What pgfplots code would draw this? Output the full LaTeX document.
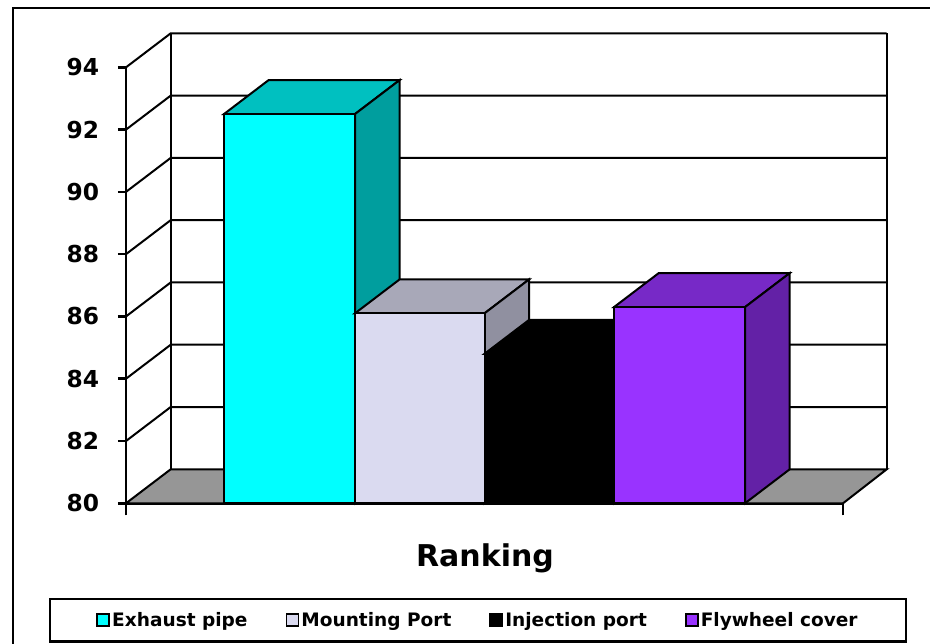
\documentclass[border=0pt]{standalone}
\usepackage{pgfplots}
\pgfplotsset{compat=1.18}
\usepackage{fontspec}
\setmainfont{DejaVu Sans}
\definecolor{cyF}{RGB}{0,255,255}
\definecolor{cyT}{RGB}{0,192,192}
\definecolor{cyS}{RGB}{0,158,158}
\definecolor{lvF}{RGB}{218,218,240}
\definecolor{lvT}{RGB}{168,168,184}
\definecolor{lvS}{RGB}{144,144,160}
\definecolor{puF}{RGB}{153,51,255}
\definecolor{puT}{RGB}{119,41,199}
\definecolor{puS}{RGB}{99,33,166}
\definecolor{floorgray}{RGB}{150,150,150}
\begin{document}
\begin{tikzpicture}
\begin{axis}[
  x=0.75pt, y=23.355pt,
  xmin=126, xmax=843, ymin=80, ymax=94,
  clip=false,
  axis lines*=left,
  axis line style={line width=1.9pt, black},
  tick align=outside,
  tick pos=left,
  ytick={80,82,...,94},
  xtick={126,843},
  xticklabels={},
  major tick length=6pt,
  every tick/.style={black, line width=1.9pt},
  xtick style={/pgfplots/major tick length=9pt},
  /pgf/number format/assume math mode=true,
  yticklabel style={font=\bfseries\fontsize{17.5}{17.5}\selectfont, inner sep=0pt, anchor=east, xshift=-14pt},
  area legend,
  legend image code/.code={\filldraw[draw=black, line width=1.4pt] (0pt,-4.5pt) rectangle (9pt,4.5pt);},
  legend style={at={(axis cs:478,76.2476)}, anchor=center, legend columns=4,
    draw=black, line width=1.6pt, inner xsep=35pt, inner ysep=8.5pt,
    font=\bfseries\fontsize{13.9}{13.9}\selectfont,
    nodes={inner sep=1.5pt},
    /tikz/every even column/.append style={column sep=27pt}},
]
% back wall edges and grid
\addplot[forget plot, black, line width=1.5pt] coordinates {(170.7,81.092) (170.7,95.092)};
\addplot[forget plot, black, line width=1.5pt] coordinates {(886.7,81.092) (886.7,95.092)};
\addplot[forget plot, black, line width=1.5pt] coordinates {(126,82) (170.7,83.092) (886.7,83.092)};
\addplot[forget plot, black, line width=1.5pt] coordinates {(126,84) (170.7,85.092) (886.7,85.092)};
\addplot[forget plot, black, line width=1.5pt] coordinates {(126,86) (170.7,87.092) (886.7,87.092)};
\addplot[forget plot, black, line width=1.5pt] coordinates {(126,88) (170.7,89.092) (886.7,89.092)};
\addplot[forget plot, black, line width=1.5pt] coordinates {(126,90) (170.7,91.092) (886.7,91.092)};
\addplot[forget plot, black, line width=1.5pt] coordinates {(126,92) (170.7,93.092) (886.7,93.092)};
\addplot[forget plot, black, line width=1.5pt] coordinates {(126,94) (170.7,95.092) (886.7,95.092)};
% floor
\addplot[forget plot, fill=floorgray, draw=black, line width=1.5pt] coordinates {(126,80) (843,80) (886.7,81.092) (170.7,81.092)} --cycle;
% Exhaust pipe 92.5
\addplot[forget plot, fill=cyT, draw=black, line width=1.5pt] coordinates {(224,92.5) (355,92.5) (399.7,93.592) (268.7,93.592)} --cycle;
\addplot[forget plot, fill=cyS, draw=black, line width=1.5pt] coordinates {(355,80) (355,92.5) (399.7,93.592) (399.7,81.092)} --cycle;
\addplot[fill=cyF, draw=black, line width=1.5pt] coordinates {(224,80) (355,80) (355,92.5) (224,92.5)} --cycle;
\addlegendentry{Exhaust pipe}
% Mounting Port 86.1
\addplot[forget plot, fill=lvT, draw=black, line width=1.5pt] coordinates {(355,86.1) (484.5,86.1) (529.2,87.192) (399.7,87.192)} --cycle;
\addplot[forget plot, fill=lvS, draw=black, line width=1.5pt] coordinates {(484.5,80) (484.5,86.1) (529.2,87.192) (529.2,81.092)} --cycle;
\addplot[fill=lvF, draw=black, line width=1.5pt] coordinates {(355,80) (484.5,80) (484.5,86.1) (355,86.1)} --cycle;
\addlegendentry{Mounting Port}
% Injection port 84.8
\addplot[forget plot, fill=black, draw=black, line width=1.5pt] coordinates {(484.5,84.8) (614,84.8) (658.7,85.892) (529.2,85.892)} --cycle;
\addplot[forget plot, fill=black, draw=black, line width=1.5pt] coordinates {(614,80) (614,84.8) (658.7,85.892) (658.7,81.092)} --cycle;
\addplot[fill=black, draw=black, line width=1.5pt] coordinates {(484.5,80) (614,80) (614,84.8) (484.5,84.8)} --cycle;
\addlegendentry{Injection port}
% Flywheel cover 86.3
\addplot[forget plot, fill=puT, draw=black, line width=1.5pt] coordinates {(614,86.3) (745,86.3) (789.7,87.392) (658.7,87.392)} --cycle;
\addplot[forget plot, fill=puS, draw=black, line width=1.5pt] coordinates {(745,80) (745,86.3) (789.7,87.392) (789.7,81.092)} --cycle;
\addplot[fill=puF, draw=black, line width=1.5pt] coordinates {(614,80) (745,80) (745,86.3) (614,86.3)} --cycle;
\addlegendentry{Flywheel cover}
\node[font=\bfseries\fontsize{22.5}{22.5}\selectfont, anchor=base] at (axis cs:485,77.964) {Ranking};
\draw[black, line width=1.6pt] (axis cs:12.7,74) -- (axis cs:12.7,95.9056) -- (axis cs:945,95.9056);
\coordinate (bbl) at (axis cs:0,75.4817);
\coordinate (btr) at (axis cs:930,96.1625);
\end{axis}
\pgfresetboundingbox
\useasboundingbox (bbl) rectangle (btr);
\end{tikzpicture}
\end{document}
